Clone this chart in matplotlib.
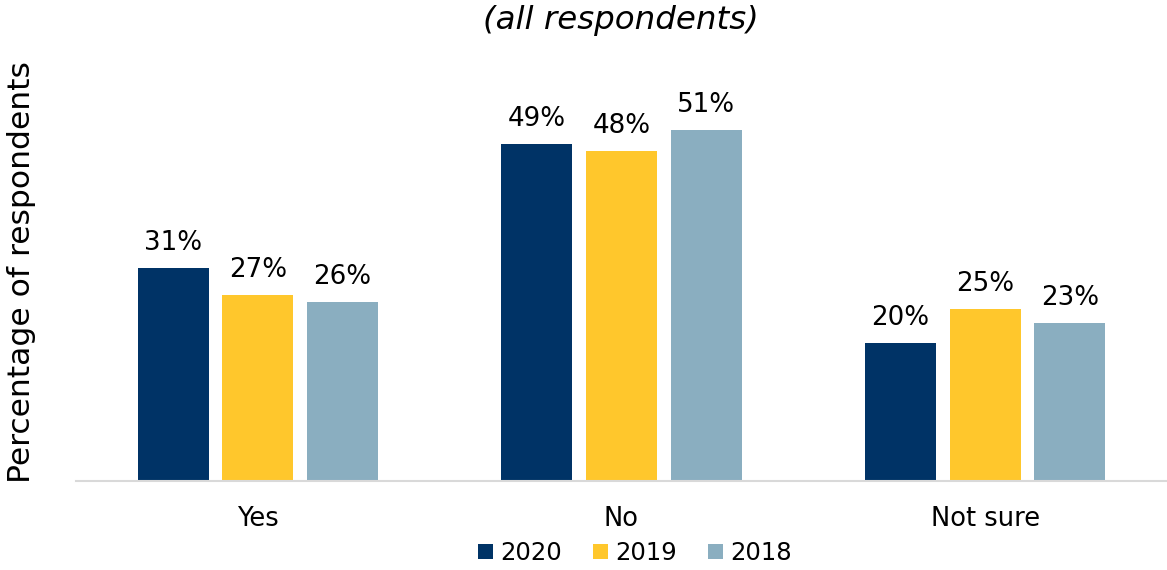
import matplotlib
matplotlib.use("Agg")
import matplotlib.pyplot as plt
import numpy as np

plt.rcParams['font.family'] = ['DejaVu Sans']

categories = ["Yes", "No", "Not sure"]
years = ["2020", "2019", "2018"]
values_2020 = [31, 49, 20]
values_2019 = [27, 48, 25]
values_2018 = [26, 51, 23]
colors = ["#003366", "#FFC72C", "#8AAEC0"]

fig = plt.figure(figsize=(11.67, 5.70), dpi=100)
ax = fig.add_axes([76/1167, 1-481/570, 1-76/1167, (481-68)/570])

x = np.arange(len(categories))
width = 0.195
step = 0.233
series = [values_2020, values_2019, values_2018]
for i, (yr, vals, c) in enumerate(zip(years, series, colors)):
    bars = ax.bar(x + (i-1)*step, vals, width, color=c, label=yr)
    for b, v in zip(bars, vals):
        ax.annotate(f"{v}%", (b.get_x()+b.get_width()/2, v), xytext=(0, 13),
                    textcoords="offset points", ha="center", va="baseline", fontsize=18.8)

ax.set_xlim(-0.5, 2.5)
ax.set_ylim(0, 60)
ax.set_xticks(x)
ax.set_xticklabels(categories, fontsize=18.5)
ax.tick_params(axis='x', length=0, pad=18)
ax.set_yticks([])
for s in ["top", "right", "left"]:
    ax.spines[s].set_visible(False)
ax.spines["bottom"].set_color("#D9D9D9")
ax.spines["bottom"].set_linewidth(1.5)

fig.text(22/1167, (570-272)/570, "Percentage of respondents", rotation=90, fontsize=22.6,
         ha="center", va="center")
fig.text(621/1167, 1-20/570, "(all respondents)", fontsize=23.4, style="italic",
         ha="center", va="center")

leg = fig.legend(loc="center", bbox_to_anchor=(635/1167, 1-553/570), ncol=3, frameon=False,
                 fontsize=17.5, handlelength=0.6, handleheight=0.6, handletextpad=0.3,
                 columnspacing=1.3)

fig.savefig("out.png", dpi=100)
